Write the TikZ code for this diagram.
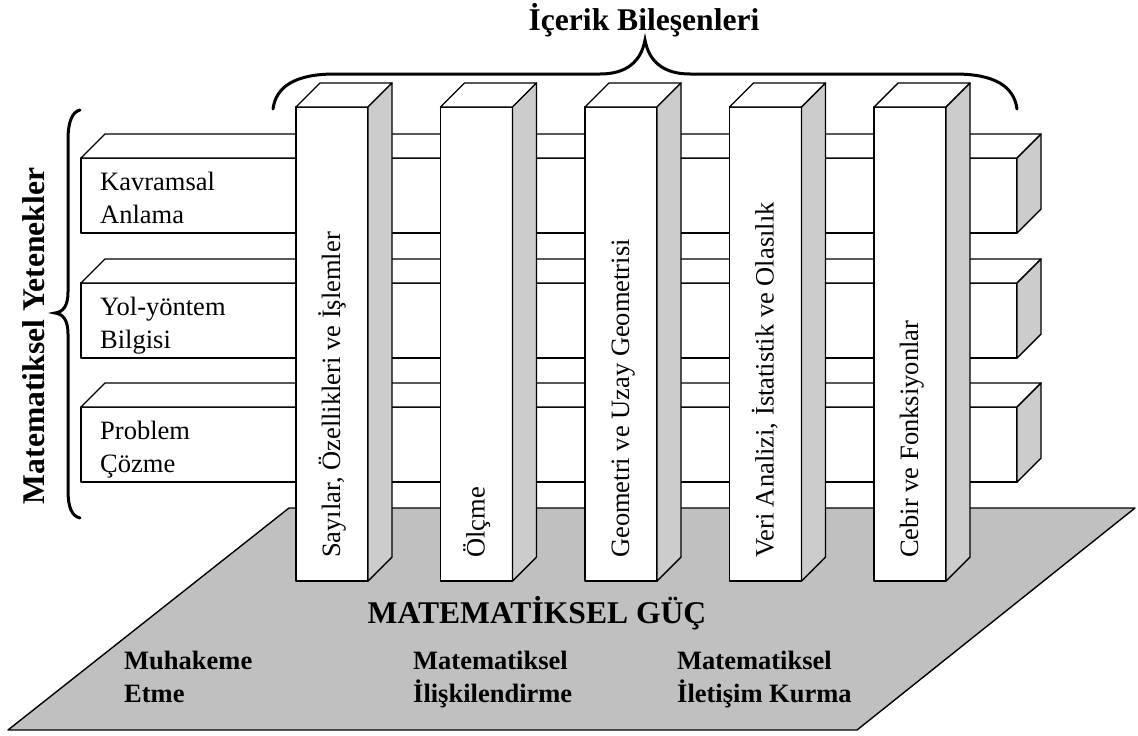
\documentclass[tikz,border=0pt]{standalone}
\usepackage{fontspec}
\setmainfont{Liberation Serif}
\definecolor{floorgray}{HTML}{C0C0C0}
\definecolor{sidegray}{HTML}{CCCCCC}
% a box seen from the front: front face, top face and shaded right face
% #1,#2: top-left corner of the front face, #3: width, #4: height
\newcommand\cuboid[4]{%
  \draw[face] (#1,#2) rectangle ({#1+#3},{#2+#4});
  \draw[face] (#1,#2) -- ++(24,-24) -- ++(#3,0) -- ++(-24,24) -- cycle;
  \draw[side] ({#1+#3},#2) -- ++(24,-24) -- ++(0,#4) -- ++(-24,24) -- cycle;
}
\begin{document}
\begin{tikzpicture}[x=1pt,y=-1pt,
  edge/.style={line width=1.4pt,line join=round},
  face/.style={edge,fill=white},
  side/.style={edge,fill=sidegray},
  bracepath/.style={line width=3pt,line cap=round},
  lbl/.style={font=\fontsize{26.5}{33}\selectfont,inner sep=0pt,anchor=base west},
  bl/.style={font=\fontsize{26.5}{33}\selectfont\bfseries,inner sep=0pt,anchor=base west},
  head/.style={font=\fontsize{31.6}{38}\selectfont\bfseries,inner sep=0pt,anchor=base},
  ptxt/.style={lbl,rotate=90}]
\useasboundingbox (0,0) rectangle (1138,736);

% floor
\draw[edge,fill=floorgray] (8,730) -- (289,508) -- (1135,508) -- (857,730) -- cycle;

% horizontal bars (abilities)
\cuboid{81}{158}{936}{75}
\cuboid{81}{283}{936}{75}
\cuboid{81}{407}{936}{75}

% vertical pillars (content areas)
\foreach \px in {296,440.5,585,729.5,874}{
  \cuboid{\px}{107}{72}{474}
}

% bar labels
\node[lbl] (kav1) at (100,190) {Kavramsal};
\node[lbl] (kav2) at (100,223) {Anlama};
\node[lbl] (yol1) at (100,315) {Yol-yöntem};
\node[lbl] (yol2) at (100,348) {Bilgisi};
\node[lbl] (pro1) at (100,439) {Problem};
\node[lbl] (pro2) at (100,472) {Çözme};

% pillar labels
\node[ptxt] (sayi) at (340,558) {Sayılar, Özellikleri ve İşlemler};
\node[ptxt] (olc)  at (484.5,558) {Ölçme};
\node[ptxt] (geo)  at (629,558) {Geometri ve Uzay Geometrisi};
\node[ptxt] (veri) at (773.5,558) {Veri Analizi, İstatistik ve Olasılık};
\node[ptxt] (cebir) at (918,558) {Cebir ve Fonksiyonlar};

% floor labels
\node[head] (guc) at (537,623) {MATEMATİKSEL GÜÇ};
\node[bl] (muh1) at (124,669) {Muhakeme};
\node[bl] (muh2) at (124,702) {Etme};
\node[bl] (ili1) at (413,669) {Matematiksel};
\node[bl] (ili2) at (413,702) {İlişkilendirme};
\node[bl] (ilt1) at (677,669) {Matematiksel};
\node[bl] (ilt2) at (677,702) {İletişim Kurma};

% headings
\node[head] (icerik) at (644,30) {İçerik Bileşenleri};
\node[head,rotate=90] (yetenek) at (44,336) {Matematiksel Yetenekler};

% braces
\draw[bracepath] (273,109) .. controls (276,86) and (296,74) .. (335,74)
  -- (600,74) .. controls (626,74) and (641,62) .. (645,40)
  .. controls (649,62) and (664,74) .. (690,74)
  -- (955,74) .. controls (994,74) and (1014,86) .. (1017,109);
\draw[bracepath] (80,110) .. controls (72,112) and (68,122) .. (68,140)
  -- (68,292) .. controls (68,306) and (63,312) .. (55,313)
  .. controls (63,314) and (68,320) .. (68,334)
  -- (68,490) .. controls (68,508) and (72,516) .. (80,518);
\end{tikzpicture}
\end{document}
